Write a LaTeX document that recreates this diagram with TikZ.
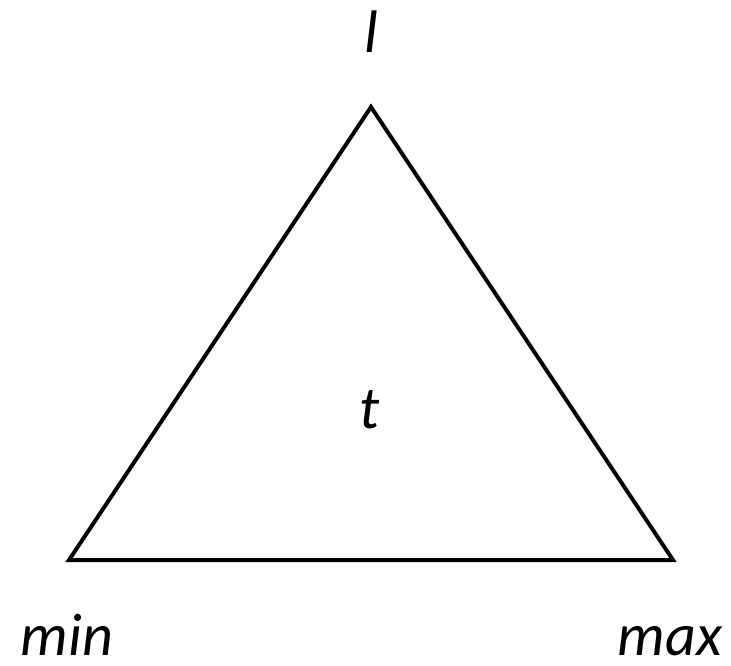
\documentclass[tikz,border=0pt]{standalone}
\usepackage{fontspec}
\setmainfont{Carlito}
\usetikzlibrary{positioning}
\tikzset{
  vlabel/.style={anchor=base,inner sep=0pt,font=\fontsize{60}{72}\selectfont\itshape}
}
\begin{document}
\begin{tikzpicture}[x=1pt,y=-1pt]
\useasboundingbox (0,0) rectangle (731,666);
% corners
\coordinate (top) at (371,107);
\coordinate (lo) at (69,560);
\coordinate (hi) at (673,560);
% triangle
\draw[line width=4pt,line join=miter] (top) -- (lo) -- (hi) -- cycle;
% labels
\node[vlabel] (l) at (371,53) {l};
\node[vlabel] (t) at (370,428) {t};
\node[vlabel] (min) at (67,655) {min};
\node[vlabel] (max) at (670,655) {max};
\end{tikzpicture}
\end{document}
